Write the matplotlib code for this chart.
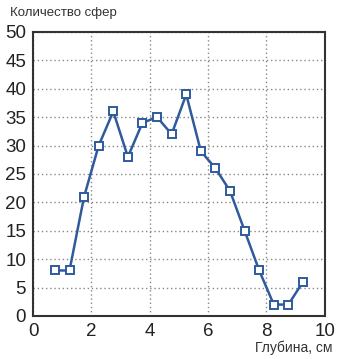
import matplotlib
matplotlib.use('Agg')
import matplotlib.pyplot as plt

# depth (cm) and number of spheres
depth = [0.75, 1.25, 1.75, 2.25, 2.75, 3.25, 3.75, 4.25, 4.75,
         5.25, 5.75, 6.25, 6.75, 7.25, 7.75, 8.25, 8.75, 9.25]
count = [8, 8, 21, 30, 36, 28, 34, 35, 32,
         39, 29, 26, 22, 15, 8, 2, 2, 6]
xticks = [0, 2, 4, 6, 8, 10]
yticks = [0, 5, 10, 15, 20, 25, 30, 35, 40, 45, 50]

plt.rcParams['font.family'] = ['Liberation Sans', 'DejaVu Sans']

fig = plt.figure(figsize=(3.37, 3.59), dpi=100)
ax = fig.add_axes([0.098, 0.12, 0.866, 0.791])

ax.plot(depth, count, color='#2f5b9c', lw=1.8, marker='s', ms=5.2,
        mfc='white', mec='#2f5b9c', mew=1.4, zorder=3)

ax.set_xlim(0, 10)
ax.set_ylim(0, 50)
ax.set_xticks(xticks)
ax.set_yticks(yticks)
ax.tick_params(length=0, labelsize=13.5, pad=5, colors='#222222')
ax.grid(True, ls=(0, (1, 2)), color='#888888', lw=1)
for s in ax.spines.values():
    s.set_color('#333333')
    s.set_linewidth(1.5)

fig.text(0.03, 0.98, 'Количество сфер', fontsize=9.5, va='top', ha='left', color='#333333')
fig.text(0.988, 0.012, 'Глубина, см', fontsize=10, va='bottom', ha='right', color='#333333')

fig.savefig('out.png', dpi=100)
